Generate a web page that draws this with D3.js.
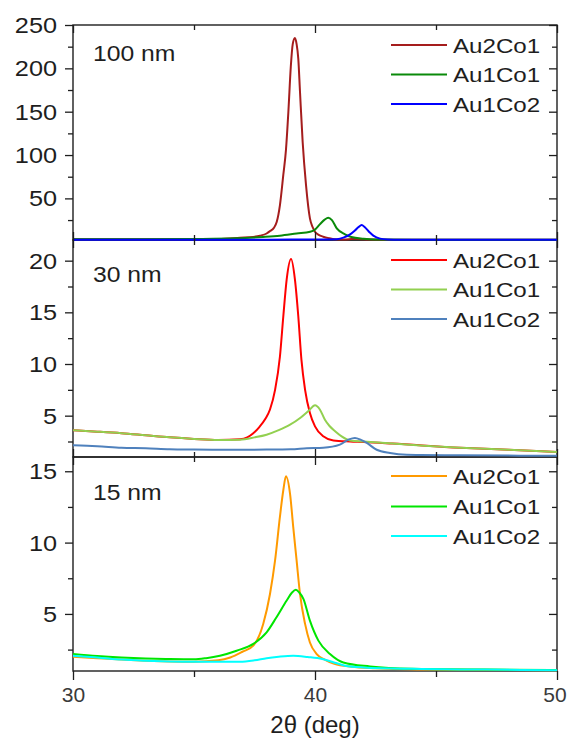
<!DOCTYPE html>
<html>
<head>
<meta charset="utf-8">
<script src="https://cdn.jsdelivr.net/npm/d3@7"></script>
<style>
  body { margin: 0; background: #fff; }
  svg { display: block; }
  text { font-family: "Liberation Sans", Arial, Helvetica, sans-serif; }
</style>
</head>
<body>
<svg id="chart" width="567" height="740"></svg>
<script>
// ---- data: XRD intensity vs 2θ for three Au–Co compositions at three particle sizes ----
const seriesNames = ["Au2Co1", "Au1Co1", "Au1Co2"];
const sizeLabels = ["100 nm", "30 nm", "15 nm"];

const xDomain = [30, 50];
const xMajorTicks = [30, 40, 50];
const xMinorTicks = [35, 45];

// 100 nm
const au2co1_100 = [[30,2.8],[32,2.8],[34,2.9],[36,3.2],[36.9,4.6],[37.45,5.6],[37.73,7],[38.0,9.5],[38.14,12.3],[38.3,16],[38.42,23],[38.55,42],[38.69,77],[38.8,106],[38.9,150],[39.0,202],[39.08,228],[39.17,235],[39.24,228],[39.31,211],[39.38,173],[39.49,115],[39.63,65],[39.79,27],[39.9,17],[40.0,11.5],[40.15,8],[40.34,5.8],[40.6,4],[40.8,3],[41.2,2.6],[41.6,3.3],[41.9,3.0],[42.2,2.5],[43,2.3],[46,2.3],[50,2.3]];
const au1co1_100 = [[30,2.8],[33,2.9],[35,3.2],[36.76,3.9],[37.85,5.5],[38.55,7],[39.24,9.5],[39.8,11.5],[40.0,14],[40.2,20],[40.4,25.5],[40.55,27.7],[40.7,25],[40.9,15.4],[41.24,8.5],[41.5,5.4],[42.0,3.5],[42.5,2.6],[44,2.3],[50,2.3]];
const au1co2_100 = [[30,2.3],[35,2.3],[38,2.4],[40,2.5],[40.9,3.0],[41.2,5],[41.45,8.5],[41.65,13],[41.8,17],[41.93,19.3],[42.05,17],[42.25,11],[42.41,7],[42.69,3.6],[43.0,2.6],[43.5,2.3],[50,2.3]];

// 30 nm
const au2co1_30 = [[30,3.58],[31,3.45],[32,3.3],[33,3.1],[34,2.9],[35,2.75],[36,2.65],[36.9,2.72],[37.2,2.9],[37.45,3.3],[37.7,3.9],[37.95,4.7],[38.14,5.6],[38.35,7.5],[38.55,10.7],[38.69,14.6],[38.83,18.2],[39.01,20.17],[39.17,18.2],[39.31,14.6],[39.44,10.4],[39.59,7.5],[39.79,5.26],[40.0,3.97],[40.34,3.0],[40.76,2.6],[41.45,2.5],[42,2.45],[43.2,2.3],[46,1.9],[48,1.7],[50,1.49]];
const au1co1_30 = [[30,3.58],[31,3.45],[32,3.3],[33,3.1],[34,2.9],[35,2.75],[36,2.65],[36.9,2.68],[37.5,2.9],[38.0,3.16],[38.5,3.6],[38.97,4.13],[39.4,4.8],[39.75,5.5],[40.0,6.0],[40.2,5.6],[40.41,4.6],[40.6,4.0],[40.83,3.5],[41.1,3.0],[41.45,2.6],[42,2.5],[43.2,2.3],[44.5,2.1],[46,1.9],[48,1.7],[50,1.49]];
const au1co2_30 = [[30,2.13],[31,2.05],[32,1.9],[33,1.85],[34,1.75],[35,1.72],[36,1.7],[38,1.72],[39,1.75],[39.66,1.85],[40.34,1.9],[41.03,2.2],[41.4,2.7],[41.65,2.84],[41.9,2.65],[42.14,2.36],[42.55,1.7],[43.1,1.39],[43.79,1.22],[44.34,1.2],[46,1.16],[50,1.12]];

// 15 nm
const au2co1_15 = [[30,2.0],[31,1.9],[32,1.8],[33,1.72],[34,1.67],[35,1.65],[36,1.75],[36.5,1.95],[37.0,2.35],[37.45,2.78],[37.86,4.3],[38.14,6.4],[38.35,8.75],[38.55,11.8],[38.69,13.67],[38.8,14.65],[38.97,13.4],[39.1,11.1],[39.24,8.75],[39.38,6.4],[39.59,4.3],[39.79,3.0],[40.07,2.19],[40.4,1.8],[40.8,1.5],[41.5,1.3],[42.5,1.2],[45,1.1],[50,1.05]];
const au1co1_15 = [[30,2.19],[31,2.05],[32,1.95],[33,1.88],[34,1.84],[35,1.82],[35.5,1.9],[36.07,2.07],[36.76,2.42],[37.45,2.9],[38.0,3.71],[38.41,4.77],[38.83,5.94],[39.05,6.5],[39.21,6.69],[39.35,6.5],[39.52,6.06],[39.79,4.53],[40.14,3.13],[40.62,2.19],[41.17,1.6],[42.27,1.32],[44,1.15],[47,1.1],[50,1.07]];
const au1co2_15 = [[30,2.07],[31,1.95],[32,1.8],[33,1.72],[34,1.67],[35,1.65],[36,1.65],[36.9,1.65],[37.5,1.75],[38.0,1.9],[38.5,2.0],[39.1,2.07],[39.7,1.98],[40.3,1.84],[40.7,1.65],[41.24,1.37],[42,1.25],[44,1.15],[47,1.1],[50,1.05]];

// y-axis domains and ticks for each panel
const yDomain100 = [2, 250], yMajor100 = [50, 100, 150, 200, 250], yMinor100 = [25, 75, 125, 175, 225];
const yDomain30 = [1, 22],  yMajor30 = [5, 10, 15, 20],         yMinor30 = [2.5, 7.5, 12.5, 17.5];
const yDomain15 = [1, 16],  yMajor15 = [5, 10, 15],             yMinor15 = [2.5, 7.5, 12.5];

// ---- layout & styling ----
const colors100 = ["#a51d1d", "#0a8a0a", "#0000ff"];
const colors30  = ["#ff0000", "#92d050", "#4f81bd"];
const colors15  = ["#ff9a00", "#00e600", "#00ffff"];

const panels = [
  { label: sizeLabels[0], top: 25,  bottom: 240, labelY: 61,  dom: yDomain100, major: yMajor100, minor: yMinor100,
    data: [au2co1_100, au1co1_100, au1co2_100], colors: colors100, legendY: [45, 74.5, 104] },
  { label: sizeLabels[1], top: 240, bottom: 457, labelY: 282, dom: yDomain30,  major: yMajor30,  minor: yMinor30,
    data: [au2co1_30, au1co1_30, au1co2_30], colors: colors30, legendY: [260, 289.5, 319] },
  { label: sizeLabels[2], top: 457, bottom: 671, labelY: 500, dom: yDomain15,  major: yMajor15,  minor: yMinor15,
    data: [au2co1_15, au1co1_15, au1co2_15], colors: colors15, legendY: [476, 506.5, 536] }
];

const X0 = 73, X1 = 557;
const SX = 1.15;           // horizontal stretch of the label typeface
const ink = "#1e1e1e";

const svg = d3.select("#chart");
const x = d3.scaleLinear().domain(xDomain).range([X0, X1]);

function styleAxis(sel) {
  sel.select(".domain").remove();
  sel.selectAll(".tick line").attr("stroke", ink).attr("stroke-width", 1.3);
  return sel;
}

// frames first, so the curves sit on top of the panel edges
const frameLayer = svg.append("g");
const dataLayer = svg.append("g");
const annoLayer = svg.append("g");

panels.forEach((p, pi) => {
  const y = d3.scaleLinear().domain(p.dom).range([p.bottom, p.top]);
  const g = annoLayer.append("g");
  const isLast = pi === panels.length - 1;

  frameLayer.append("rect")
    .attr("x", X0).attr("y", p.top)
    .attr("width", X1 - X0).attr("height", p.bottom - p.top)
    .attr("fill", "none").attr("stroke", ink).attr("stroke-width", 1.4);

  // data curves
  const line = d3.line().x(d => x(d[0])).y(d => y(d[1])).curve(d3.curveMonotoneX);
  p.data.forEach((s, i) => {
    dataLayer.append("path").datum(s)
      .attr("d", line)
      .attr("fill", "none")
      .attr("stroke", p.colors[i])
      .attr("stroke-width", 2)
      .attr("stroke-linejoin", "round");
  });

  // left axis: outward ticks with labels
  const left = g.append("g").attr("transform", `translate(${X0},0)`)
    .call(d3.axisLeft(y).tickValues(p.major).tickSize(8).tickFormat(d3.format("d")));
  styleAxis(left);
  left.selectAll("text")
    .attr("x", -16 / SX)
    .attr("dy", "0.34em")
    .attr("transform", `scale(${SX},1)`)
    .attr("font-size", 22)
    .attr("fill", ink);
  styleAxis(g.append("g").attr("transform", `translate(${X0},0)`)
    .call(d3.axisLeft(y).tickValues(p.minor).tickSize(5).tickFormat("")));

  // right axis: inward ticks
  styleAxis(g.append("g").attr("transform", `translate(${X1},0)`)
    .call(d3.axisLeft(y).tickValues(p.major).tickSize(8).tickFormat("")));
  styleAxis(g.append("g").attr("transform", `translate(${X1},0)`)
    .call(d3.axisLeft(y).tickValues(p.minor).tickSize(5).tickFormat("")));

  // top edge: inward ticks
  styleAxis(g.append("g").attr("transform", `translate(0,${p.top})`)
    .call(d3.axisBottom(x).tickValues(xMajorTicks).tickSize(8).tickFormat("")));
  styleAxis(g.append("g").attr("transform", `translate(0,${p.top})`)
    .call(d3.axisBottom(x).tickValues(xMinorTicks).tickSize(5).tickFormat("")));

  if (!isLast) {
    // bottom edge of upper panels: inward ticks
    styleAxis(g.append("g").attr("transform", `translate(0,${p.bottom})`)
      .call(d3.axisTop(x).tickValues(xMajorTicks).tickSize(8).tickFormat("")));
    styleAxis(g.append("g").attr("transform", `translate(0,${p.bottom})`)
      .call(d3.axisTop(x).tickValues(xMinorTicks).tickSize(5).tickFormat("")));
  } else {
    // shared 2θ axis: outward ticks with labels
    const bx = g.append("g").attr("transform", `translate(0,${p.bottom})`)
      .call(d3.axisBottom(x).tickValues(xMajorTicks).tickSize(9).tickPadding(7).tickFormat(d3.format("d")));
    styleAxis(bx);
    bx.selectAll("text").attr("font-size", 21).attr("fill", "#3a3a3a")
      .attr("dx", d => d === xDomain[1] ? -2.5 : 0);
    styleAxis(g.append("g").attr("transform", `translate(0,${p.bottom})`)
      .call(d3.axisBottom(x).tickValues(xMinorTicks).tickSize(6).tickFormat("")));
  }

  // size label
  g.append("text")
    .attr("transform", `translate(93,${p.labelY}) scale(${SX},1)`)
    .attr("font-size", 21.5)
    .attr("fill", ink)
    .text(p.label);

  // legend
  seriesNames.forEach((name, i) => {
    const ly = p.legendY[i];
    g.append("line")
      .attr("x1", 391).attr("x2", 447)
      .attr("y1", ly).attr("y2", ly)
      .attr("stroke", p.colors[i]).attr("stroke-width", 2);
    g.append("text")
      .attr("transform", `translate(453,${ly + 7.5}) scale(${SX},1)`)
      .attr("font-size", 21)
      .attr("fill", ink)
      .text(name);
  });
});

// x-axis title
svg.append("text")
  .attr("x", (X0 + X1) / 2)
  .attr("y", 733)
  .attr("text-anchor", "middle")
  .attr("font-size", 24)
  .attr("fill", ink)
  .text("2θ (deg)");
</script>
</body>
</html>
